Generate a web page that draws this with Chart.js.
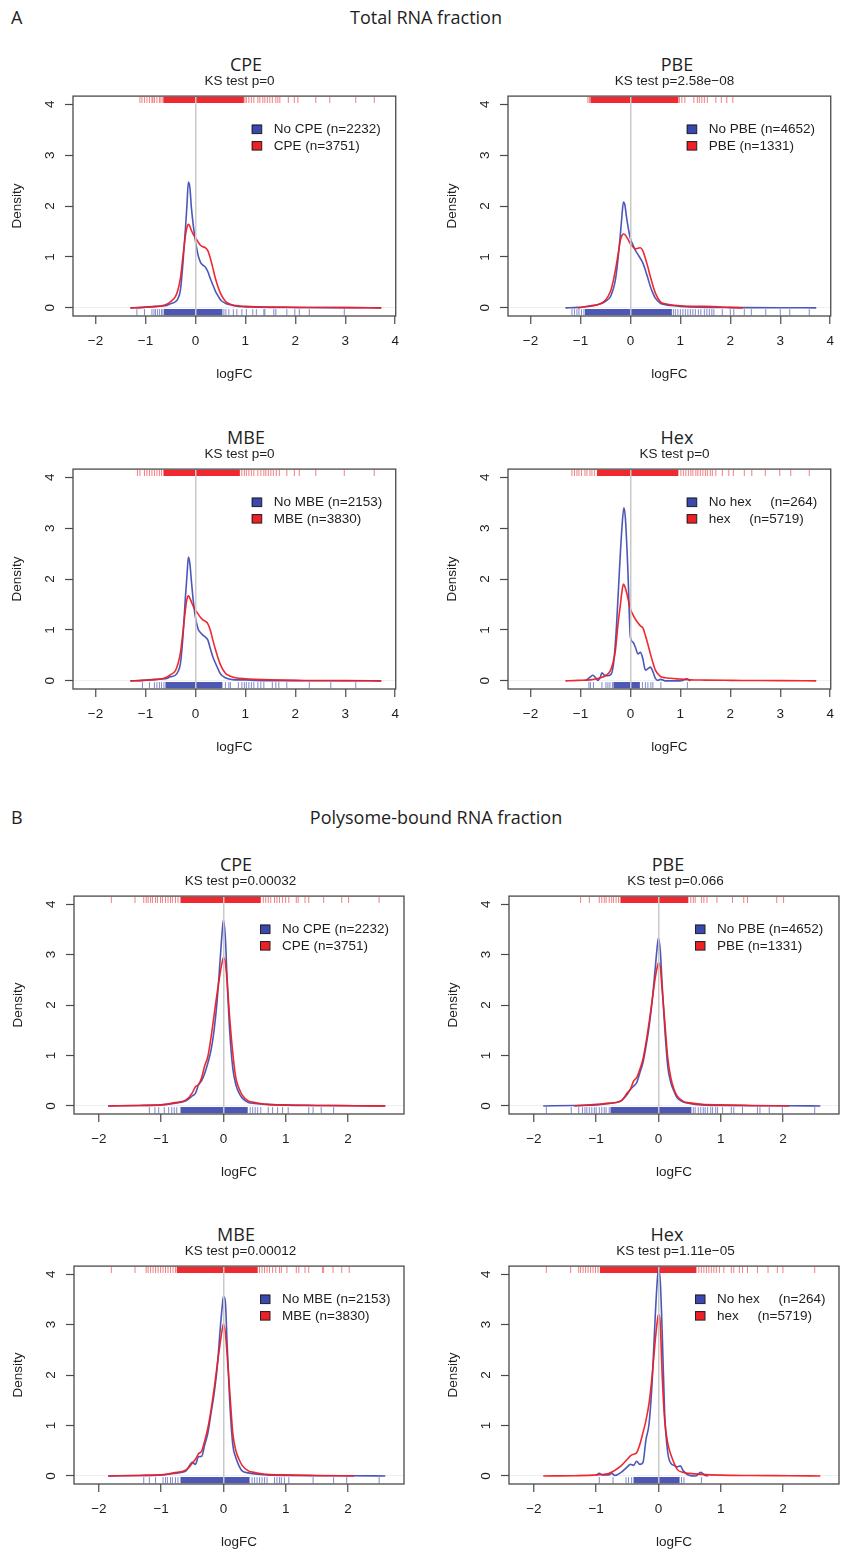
<!DOCTYPE html>
<html>
<head>
<meta charset="utf-8">
<script src="https://cdn.jsdelivr.net/npm/chart.js@4.4.1/dist/chart.umd.min.js"></script>
<style>
html, body { margin: 0; padding: 0; background: #fff; overflow: hidden; }
body { width: 842px; height: 1550px; position: relative; }
.t { position: absolute; white-space: pre; color: #1e1e1e; line-height: 1; }
.head { font-family: "Open Sans"; font-size: 18px; transform: translateY(-50%); }
.headc { font-family: "Open Sans"; font-size: 18px; transform: translate(-50%, -50%); }
.sub { font-family: "Liberation Sans"; font-size: 13.5px; transform: translate(-50%, -50%); }
canvas { position: absolute; }
</style>
</head>
<body>
<script>
// ---- axes ----
const xlimTotal = [-2.45, 4.01];
const xlimPoly = [-2.40, 2.90];
const ylim = [-0.16, 4.16];
const ticksTotal = [-2, -1, 0, 1, 2, 3, 4];
const ticksPoly = [-2, -1, 0, 1, 2];
const densityTicks = [0, 1, 2, 3, 4];

// ---- density curves, total RNA (A) ----
const xTotal = [-1.3, -1.05, -0.8, -0.6, -0.5, -0.4, -0.35, -0.3, -0.25, -0.2, -0.17, -0.14, -0.11, -0.08, -0.04, 0,
    0.05, 0.1, 0.15, 0.2, 0.25, 0.3, 0.35, 0.4, 0.45, 0.5, 0.6, 0.7, 0.8, 1.0, 1.2, 1.5, 2.0, 2.25, 3.0, 3.72];
const totalCpeNo = [0, 0.01, 0.03, 0.04, 0.08, 0.12, 0.18, 0.35, 0.87, 1.55, 2.0, 2.47, 2.36, 1.97, 1.6, 1.32,
    1.05, 0.9, 0.84, 0.8, 0.71, 0.57, 0.45, 0.33, 0.24, 0.16, 0.09, 0.06, 0.035, 0.02, 0.015, 0.01, 0.008, 0.006, 0.005, 0];
const totalCpeYes = [0, 0.01, 0.025, 0.06, 0.12, 0.22, 0.35, 0.58, 1.0, 1.42, 1.58, 1.64, 1.6, 1.52, 1.44, 1.38,
    1.3, 1.23, 1.2, 1.18, 1.12, 0.97, 0.78, 0.58, 0.42, 0.29, 0.13, 0.07, 0.045, 0.03, 0.02, 0.015, 0.01, 0.008, 0.005, 0];
const totalPbeNo = [0, 0.01, 0.03, 0.08, 0.13, 0.22, 0.35, 0.55, 0.94, 1.45, 1.8, 2.08, 2.02, 1.8, 1.55, 1.36,
    1.24, 1.13, 1.05, 0.97, 0.88, 0.74, 0.58, 0.42, 0.29, 0.19, 0.09, 0.06, 0.045, 0.03, 0.02, 0.01, 0.005, 0.004, 0.002, 0];
const totalPbeYes = [null, 0, 0.04, 0.08, 0.15, 0.32, 0.5, 0.74, 1.03, 1.33, 1.42, 1.45, 1.44, 1.4, 1.33, 1.26,
    1.2, 1.16, 1.17, 1.18, 1.12, 0.97, 0.8, 0.61, 0.44, 0.29, 0.12, 0.08, 0.06, 0.04, 0.03, 0.03, 0.01, 0, null, null];
const totalMbeNo = [0, 0.01, 0.03, 0.04, 0.08, 0.11, 0.18, 0.34, 0.86, 1.64, 2.05, 2.43, 2.3, 1.96, 1.55, 1.25,
    1.03, 0.95, 0.9, 0.86, 0.8, 0.63, 0.47, 0.35, 0.24, 0.14, 0.06, 0.03, 0.02, 0.02, 0.01, 0.005, 0.004, 0.003, 0.002, 0];
const totalMbeYes = [0, 0.01, 0.025, 0.06, 0.12, 0.2, 0.33, 0.55, 0.95, 1.4, 1.6, 1.67, 1.62, 1.55, 1.46, 1.39,
    1.32, 1.25, 1.2, 1.17, 1.12, 0.99, 0.8, 0.62, 0.46, 0.32, 0.15, 0.09, 0.06, 0.04, 0.03, 0.02, 0.01, 0.008, 0.005, 0];
const totalHexYes = [0, 0.01, 0.02, 0.06, 0.1, 0.2, 0.35, 0.6, 1.1, 1.5, 1.75, 1.9, 1.85, 1.75, 1.58, 1.41,
    1.3, 1.21, 1.14, 1.08, 1.04, 0.89, 0.72, 0.53, 0.36, 0.21, 0.09, 0.06, 0.05, 0.035, 0.02, 0.015, 0.01, 0.008, 0.005, 0];
const xTotalHexNo = [-0.9, -0.85, -0.8, -0.75, -0.7, -0.65, -0.6, -0.57, -0.52, -0.45, -0.38, -0.33, -0.28, -0.22, -0.17,
    -0.13, -0.1, -0.05, 0, 0.05, 0.1, 0.15, 0.2, 0.25, 0.3, 0.35, 0.4, 0.45, 0.5, 0.55, 0.6, 0.7, 0.9, 1.05, 1.12, 1.2];
const totalHexNo = [0.01, 0.04, 0.08, 0.11, 0.065, 0.01, 0.08, 0.16, 0.11, 0.1, 0.14, 0.4, 1.05, 2.16, 3.0,
    3.4, 3.19, 2.16, 0.86, 0.76, 0.66, 0.53, 0.56, 0.43, 0.21, 0.24, 0.27, 0.18, 0.05, 0.01, 0.03, 0, 0, 0.01, 0.04, 0];

// ---- density curves, polysome-bound RNA (B) ----
const xPoly = [-1.85, -1.35, -1.0, -0.8, -0.6, -0.5, -0.45, -0.4, -0.35, -0.3, -0.25, -0.2, -0.15, -0.1, -0.05, -0.02, 0,
    0.03, 0.06, 0.1, 0.15, 0.2, 0.25, 0.3, 0.4, 0.5, 0.7, 1.0, 1.5, 2.1, 2.6];
const polyCpeNo = [0, 0.01, 0.02, 0.05, 0.1, 0.2, 0.25, 0.42, 0.5, 0.65, 0.85, 1.1, 1.5, 2.1, 2.95, 3.45, 3.69,
    3.35, 2.5, 1.5, 0.75, 0.42, 0.26, 0.16, 0.07, 0.05, 0.03, 0.015, 0.01, 0.005, 0];
const polyCpeYes = [0, 0.01, 0.02, 0.06, 0.12, 0.26, 0.38, 0.42, 0.56, 0.8, 0.98, 1.35, 1.8, 2.25, 2.65, 2.85, 2.94,
    2.85, 2.45, 1.75, 1.05, 0.55, 0.35, 0.22, 0.1, 0.07, 0.03, 0.02, 0.01, 0.005, 0];
const polyPbeNo = [0, 0.01, 0.02, 0.05, 0.1, 0.23, 0.33, 0.39, 0.46, 0.65, 0.85, 1.18, 1.57, 2.09, 2.75, 3.15, 3.33,
    3.07, 2.4, 1.57, 0.78, 0.46, 0.29, 0.16, 0.08, 0.05, 0.02, 0.01, 0.005, 0.003, 0];
const polyPbeYes = [null, 0, 0.03, 0.05, 0.1, 0.26, 0.33, 0.49, 0.56, 0.72, 0.92, 1.25, 1.65, 2.1, 2.55, 2.75, 2.84,
    2.75, 2.3, 1.7, 0.95, 0.55, 0.33, 0.2, 0.09, 0.06, 0.03, 0.02, 0.01, 0, null];
const polyMbeNo = [0, 0.01, 0.02, 0.05, 0.1, 0.27, 0.23, 0.38, 0.39, 0.62, 0.85, 1.24, 1.63, 2.15, 2.94, 3.35, 3.56,
    3.46, 2.6, 1.5, 0.62, 0.36, 0.2, 0.1, 0.06, 0.04, 0.02, 0.01, 0.005, 0.003, 0];
const polyMbeYes = [0, 0.01, 0.02, 0.06, 0.12, 0.25, 0.33, 0.44, 0.49, 0.7, 0.95, 1.3, 1.72, 2.2, 2.65, 2.9, 3.01,
    2.85, 2.4, 1.7, 0.85, 0.5, 0.33, 0.21, 0.1, 0.07, 0.03, 0.02, 0.01, 0, null];
const polyHexYes = [0, 0.005, 0.02, 0.05, 0.2, 0.33, 0.4, 0.43, 0.46, 0.62, 0.85, 1.1, 1.45, 2.0, 2.7, 3.05, 3.2,
    3.0, 2.0, 1.11, 0.65, 0.42, 0.26, 0.13, 0.07, 0.05, 0.03, 0.015, 0.008, 0.004, 0];
const xPolyHexNo = [-1.0, -0.95, -0.9, -0.8, -0.75, -0.7, -0.6, -0.5, -0.45, -0.4, -0.35, -0.3, -0.25, -0.2, -0.15, -0.1,
    -0.05, -0.02, 0, 0.03, 0.06, 0.1, 0.15, 0.2, 0.25, 0.3, 0.35, 0.4, 0.5, 0.6, 0.68, 0.75, 0.8];
const polyHexNo = [0.01, 0.05, 0.02, 0.02, 0.05, 0.01, 0.07, 0.18, 0.23, 0.21, 0.29, 0.23, 0.26, 0.72, 1.04, 1.89,
    3.2, 3.85, 4.1, 3.85, 2.87, 1.24, 0.46, 0.25, 0.21, 0.18, 0.2, 0.1, 0.01, 0, 0.07, 0.01, 0];

// ---- rug marks (logFC of individual genes) ----
const rugTotalCpeTop = [-1.11, -1.07, -1.02, -0.97, -0.92, -0.87, -0.85, -0.82, -0.77, -0.72, -0.69, -0.65, 0.99, 1.02, 1.07, 1.12, 1.17, 1.25, 1.29, 1.35, 1.39, 1.44, 1.49, 1.54, 1.61, 1.65, 1.69, 1.86, 1.98, 2.05, 2.41, 2.69, 3.21, 3.58];
const rugTotalCpeBot = [-1.17, -1.02, -0.87, -0.83, -0.8, -0.76, -0.72, -0.68, -0.65, 0.57, 0.61, 0.67, 0.76, 0.83, 0.93, 1.02, 1.15, 1.22, 1.37, 1.39, 1.57, 1.61, 1.83, 1.99, 2.08, 2.28, 2.98];
const rugTotalPbeTop = [-0.85, -0.82, 0.98, 1.03, 1.09, 1.27, 1.34, 1.38, 1.43, 1.48, 1.54, 1.71, 1.82, 1.93, 2.05];
const rugTotalPbeBot = [-1.17, -1.12, -1.07, -1.03, -0.98, -0.93, 0.86, 0.9, 0.95, 1.0, 1.05, 1.1, 1.15, 1.2, 1.25, 1.3, 1.36, 1.41, 1.48, 1.53, 1.58, 1.63, 1.67, 1.84, 2.0, 2.07, 2.28, 2.42, 2.71, 3.0, 3.19, 3.58];
const rugTotalMbeTop = [-1.16, -1.11, -1.02, -0.97, -0.92, -0.87, -0.82, -0.77, -0.72, -0.68, 0.93, 0.98, 1.02, 1.07, 1.12, 1.17, 1.25, 1.31, 1.37, 1.41, 1.46, 1.51, 1.56, 1.62, 1.68, 1.83, 1.98, 2.08, 2.41, 2.98, 3.58];
const rugTotalMbeBot = [-1.06, -0.92, -0.82, -0.77, -0.72, -0.68, -0.63, 0.6, 0.67, 0.7, 0.86, 0.93, 0.98, 1.02, 1.07, 1.12, 1.17, 1.25, 1.31, 1.37, 1.54, 1.61, 1.67, 1.83, 2.28, 2.71, 3.21];
const rugTotalHexTop = [-1.17, -1.12, -1.07, -1.03, -0.98, -0.91, -0.87, -0.81, -0.77, -0.72, 1.01, 1.06, 1.11, 1.16, 1.21, 1.25, 1.31, 1.35, 1.4, 1.45, 1.5, 1.54, 1.6, 1.64, 1.71, 1.84, 1.97, 2.06, 2.28, 2.43, 2.7, 2.99, 3.21, 3.58];
const rugTotalHexBot = [-0.83, -0.8, -0.74, -0.57, -0.49, -0.45, -0.41, -0.36, 0.24, 0.3, 0.35, 0.41, 0.45, 0.61, 1.14];
const rugPolyCpeTop = [-1.8, -1.42, -1.28, -1.24, -1.21, -1.17, -1.14, -1.09, -1.06, -1.01, -0.98, -0.93, -0.89, -0.85, -0.82, -0.77, -0.73, 0.64, 0.68, 0.72, 0.76, 0.82, 0.86, 0.9, 0.95, 1.0, 1.05, 1.17, 1.2, 1.31, 1.37, 1.61, 1.9, 2.01, 2.5];
const rugPolyCpeBot = [-1.19, -1.1, -1.04, -0.95, -0.88, -0.83, -0.79, -0.75, 0.43, 0.47, 0.51, 0.55, 0.6, 0.72, 0.79, 0.87, 0.95, 1.04, 1.37, 1.44, 1.57, 1.77];
const rugPolyPbeTop = [-1.25, -1.11, -0.95, -0.91, -0.87, -0.84, -0.79, -0.75, -0.72, -0.68, -0.64, 0.52, 0.56, 0.59, 0.69, 0.73, 0.78, 0.94, 1.19, 1.37, 1.43, 1.9, 2.01];
const rugPolyPbeBot = [-1.8, -1.4, -1.28, -1.22, -1.18, -1.15, -1.11, -1.07, -1.03, -1.0, -0.95, -0.91, -0.87, -0.84, -0.79, 0.56, 0.59, 0.64, 0.68, 0.72, 0.75, 0.79, 0.84, 0.87, 0.92, 0.95, 1.03, 1.17, 1.21, 1.35, 1.59, 1.63, 1.78, 1.99, 2.51];
const rugPolyMbeTop = [-1.8, -1.42, -1.24, -1.21, -1.17, -1.13, -1.09, -1.05, -1.01, -0.97, -0.93, -0.89, -0.85, -0.81, -0.77, 0.58, 0.62, 0.66, 0.7, 0.74, 0.79, 0.84, 0.9, 0.93, 1.02, 1.17, 1.21, 1.31, 1.37, 1.59, 1.61, 1.76, 1.9, 2.02];
const rugPolyMbeBot = [-1.28, -1.19, -1.09, -0.97, -0.93, -0.9, -0.85, -0.82, -0.77, -0.73, 0.46, 0.5, 0.54, 0.58, 0.62, 0.66, 0.7, 0.82, 0.86, 0.9, 0.93, 0.98, 1.05, 1.44, 1.77, 1.98, 2.5];
const rugPolyHexTop = [-1.8, -1.41, -1.28, -1.25, -1.21, -1.17, -1.13, -1.09, -1.05, -1.01, -0.97, 0.65, 0.69, 0.73, 0.77, 0.81, 0.85, 0.89, 0.93, 0.98, 1.05, 1.17, 1.21, 1.3, 1.35, 1.43, 1.59, 1.76, 1.91, 2.0, 2.51];
const rugPolyHexBot = [-0.95, -0.73, -0.52, -0.48, -0.43, 0.37, 0.41, 0.69];
// dense stretches of the rugs, [from, to]
const bandTotalCpe = [[-0.64, 0.97], [-0.63, 0.54]];
const bandTotalPbe = [[-0.80, 0.96], [-0.91, 0.83]];
const bandTotalMbe = [[-0.64, 0.89], [-0.60, 0.54]];
const bandTotalHex = [[-0.67, 0.96], [-0.34, 0.19]];
const bandPolyCpe = [[-0.69, 0.60], [-0.69, 0.39]];
const bandPolyPbe = [[-0.61, 0.48], [-0.77, 0.53]];
const bandPolyMbe = [[-0.75, 0.55], [-0.69, 0.42]];
const bandPolyHex = [[-0.94, 0.61], [-0.40, 0.34]];

const RED = 'rgba(238,30,36,0.95)';
const BLUE = 'rgba(56,70,176,0.9)';
const RUG_Y_TOP = 4.085, RUG_Y_BOT = -0.085;

const panels = [
    { name: 'CPE', p: 'KS test p=0', box: [73, 94, 406, 316], titleX: 246, xlim: xlimTotal, xt: ticksTotal,
      noX: xTotal, no: totalCpeNo, yesX: xTotal, yes: totalCpeYes, leg: ['No CPE (n=2232)', 'CPE (n=3751)'],
      top: rugTotalCpeTop, bot: rugTotalCpeBot, band: bandTotalCpe },
    { name: 'PBE', p: 'KS test p=2.58e\u221208', box: [508, 94, 841, 316], titleX: 677, xlim: xlimTotal, xt: ticksTotal,
      noX: xTotal, no: totalPbeNo, yesX: xTotal, yes: totalPbeYes, leg: ['No PBE (n=4652)', 'PBE (n=1331)'],
      top: rugTotalPbeTop, bot: rugTotalPbeBot, band: bandTotalPbe },
    { name: 'MBE', p: 'KS test p=0', box: [73, 467, 406, 689], titleX: 246, xlim: xlimTotal, xt: ticksTotal,
      noX: xTotal, no: totalMbeNo, yesX: xTotal, yes: totalMbeYes, leg: ['No MBE (n=2153)', 'MBE (n=3830)'],
      top: rugTotalMbeTop, bot: rugTotalMbeBot, band: bandTotalMbe },
    { name: 'Hex', p: 'KS test p=0', box: [508, 467, 841, 689], titleX: 677, xlim: xlimTotal, xt: ticksTotal,
      noX: xTotalHexNo, no: totalHexNo, yesX: xTotal, yes: totalHexYes, leg: ['No hex     (n=264)', 'hex     (n=5719)'],
      top: rugTotalHexTop, bot: rugTotalHexBot, band: bandTotalHex },
    { name: 'CPE', p: 'KS test p=0.00032', box: [74, 894, 407, 1114], titleX: 236, xlim: xlimPoly, xt: ticksPoly,
      noX: xPoly, no: polyCpeNo, yesX: xPoly, yes: polyCpeYes, leg: ['No CPE (n=2232)', 'CPE (n=3751)'],
      top: rugPolyCpeTop, bot: rugPolyCpeBot, band: bandPolyCpe },
    { name: 'PBE', p: 'KS test p=0.066', box: [509, 894, 842, 1114], titleX: 668, xlim: xlimPoly, xt: ticksPoly,
      noX: xPoly, no: polyPbeNo, yesX: xPoly, yes: polyPbeYes, leg: ['No PBE (n=4652)', 'PBE (n=1331)'],
      top: rugPolyPbeTop, bot: rugPolyPbeBot, band: bandPolyPbe },
    { name: 'MBE', p: 'KS test p=0.00012', box: [74, 1264, 407, 1484], titleX: 236, xlim: xlimPoly, xt: ticksPoly,
      noX: xPoly, no: polyMbeNo, yesX: xPoly, yes: polyMbeYes, leg: ['No MBE (n=2153)', 'MBE (n=3830)'],
      top: rugPolyMbeTop, bot: rugPolyMbeBot, band: bandPolyMbe },
    { name: 'Hex', p: 'KS test p=1.11e\u221205', box: [509, 1264, 842, 1484], titleX: 667, xlim: xlimPoly, xt: ticksPoly,
      noX: xPolyHexNo, no: polyHexNo, yesX: xPoly, yes: polyHexYes, leg: ['No hex     (n=264)', 'hex     (n=5719)'],
      top: rugPolyHexTop, bot: rugPolyHexBot, band: bandPolyHex },
];

function addText(txt, cls, x, y) {
    const d = document.createElement('div');
    d.className = 't ' + cls;
    d.textContent = txt;
    d.style.left = x + 'px';
    d.style.top = y + 'px';
    document.body.appendChild(d);
}

function pts(xs, ys) {
    return xs.map((x, i) => ({ x, y: ys[i] })).filter(p => p.y !== null);
}

function minus(v) {
    return v < 0 ? '\u2212' + Math.abs(v) : String(v);
}

const FONT = { family: 'Liberation Sans', size: 13.5 };

const framePlugin = {
    id: 'frame',
    afterDraw(chart) {
        const { ctx, chartArea: a, scales: { y } } = chart;
        ctx.save();
        // rotated density labels, R style
        ctx.fillStyle = '#1e1e1e';
        ctx.font = '13.5px "Liberation Sans"';
        ctx.textAlign = 'center';
        ctx.textBaseline = 'middle';
        densityTicks.forEach(v => {
            ctx.save();
            ctx.translate(a.left - 23, y.getPixelForValue(v));
            ctx.rotate(-Math.PI / 2);
            ctx.fillText(String(v), 0, 0);
            ctx.restore();
        });
        // legend
        const leg = chart.options.plugins.frame.legend;
        const bx = a.right - 144;
        leg.forEach((l, i) => {
            const cy = a.top + 33 + i * 16.5;
            ctx.fillStyle = i === 0 ? '#3a48b0' : '#ee1f26';
            ctx.fillRect(bx, cy - 4.5, 10, 9);
            ctx.strokeStyle = '#222';
            ctx.lineWidth = 1;
            ctx.strokeRect(bx + 0.5, cy - 4, 9.5, 8.5);
            ctx.fillStyle = '#1e1e1e';
            ctx.textAlign = 'left';
            ctx.fillText(l, bx + 22, cy + 0.5);
        });
        // box
        ctx.strokeStyle = '#4a4a4a';
        ctx.lineWidth = 1.3;
        ctx.strokeRect(a.left, a.top, a.right - a.left, a.bottom - a.top);
        ctx.restore();
    }
};

function makePanel(pn) {
    const [L, T, R, B] = pn.box;
    const padL = 73, padT = 10, padR = 2, axH = 80;
    const cv = document.createElement('canvas');
    cv.width = R - L + padL + padR;
    cv.height = B - T + padT + axH;
    cv.style.left = (L - padL) + 'px';
    cv.style.top = (T - padT) + 'px';
    document.body.appendChild(cv);

    addText(pn.name, 'headc', pn.titleX, T - 30);
    addText(pn.p, 'sub', (L + R) / 2, T - 13);

    const rug = (xs, y, color) => ({
        data: xs.map(x => ({ x, y })), showLine: false, pointStyle: 'line', pointRotation: 90,
        pointRadius: 3.1, pointBorderWidth: 1, pointBorderColor: color, pointBackgroundColor: color, order: 5
    });
    const band = (r, y, color) => ({
        data: r.map(x => ({ x, y })), borderColor: color, borderWidth: 6.2, borderCapStyle: 'butt',
        pointRadius: 0, order: 4
    });

    new Chart(cv, {
        type: 'line',
        data: {
            datasets: [
                { data: pts(pn.yesX, pn.yes), borderColor: RED, borderWidth: 1.6, pointRadius: 0,
                  cubicInterpolationMode: 'monotone', order: 1 },
                { data: pts(pn.noX, pn.no), borderColor: BLUE, borderWidth: 1.6, pointRadius: 0,
                  cubicInterpolationMode: 'monotone', order: 2 },
                band(pn.band[0], RUG_Y_TOP, 'rgba(238,30,36,0.95)'),
                band(pn.band[1], RUG_Y_BOT, 'rgba(58,70,172,0.9)'),
                rug(pn.top, RUG_Y_TOP, 'rgba(238,40,46,0.6)'),
                rug(pn.bot, RUG_Y_BOT, 'rgba(60,72,176,0.65)'),
            ]
        },
        options: {
            responsive: false,
            animation: false,
            events: [],
            devicePixelRatio: 1,
            layout: { padding: { left: 0, top: padT, right: padR, bottom: 0 } },
            plugins: { legend: { display: false }, tooltip: { enabled: false }, frame: { legend: pn.leg } },
            scales: {
                x: {
                    type: 'linear', min: pn.xlim[0], max: pn.xlim[1],
                    afterBuildTicks: s => { s.ticks = pn.xt.map(v => ({ value: v })); },
                    afterFit: s => { s.height = axH; },
                    ticks: { color: '#1e1e1e', font: FONT, padding: 9, maxRotation: 0, callback: v => minus(v) },
                    grid: {
                        z: 1, drawOnChartArea: true, lineWidth: 1.5,
                        color: c => (c.tick && c.tick.value === 0 ? '#c9c9c9' : 'rgba(0,0,0,0)'),
                        tickLength: 8, tickColor: '#4a4a4a', tickWidth: 1.2
                    },
                    border: { display: false },
                    title: { display: true, text: 'logFC', color: '#1e1e1e', font: FONT, padding: { top: 0, bottom: 14 } }
                },
                y: {
                    type: 'linear', min: ylim[0], max: ylim[1],
                    afterBuildTicks: s => { s.ticks = densityTicks.map(v => ({ value: v })); },
                    afterFit: s => { s.width = padL; },
                    ticks: { color: 'rgba(0,0,0,0)', font: FONT, padding: 4 },
                    grid: {
                        lineWidth: 1,
                        color: c => (c.tick && c.tick.value === 0 ? '#efefef' : 'rgba(0,0,0,0)'),
                        tickLength: 8, tickColor: '#4a4a4a', tickWidth: 1.2
                    },
                    border: { display: false },
                    title: { display: true, text: 'Density', color: '#1e1e1e', font: FONT, padding: { top: 9, bottom: 0 } }
                }
            }
        },
        plugins: [framePlugin]
    });
}

addText('A', 'head', 11, 17);
addText('Total RNA fraction', 'headc', 426, 17);
addText('B', 'head', 11, 817);
addText('Polysome-bound RNA fraction', 'headc', 436, 817);
panels.forEach(makePanel);
</script>
</body>
</html>
